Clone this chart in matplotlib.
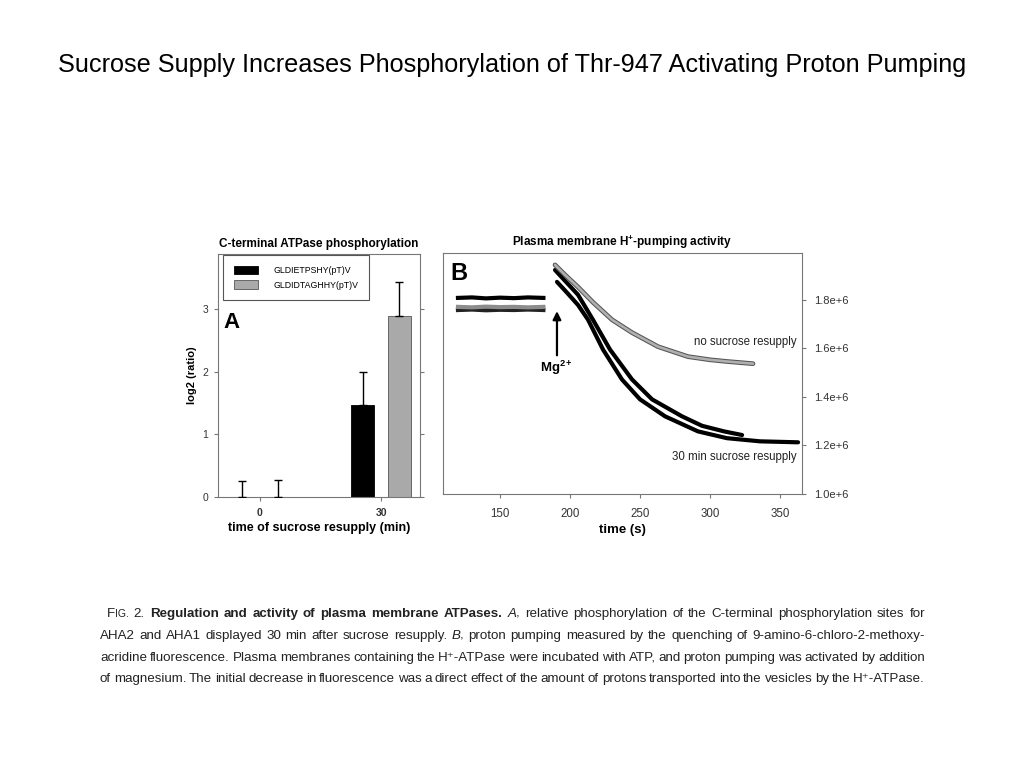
import matplotlib
matplotlib.use("Agg")
import matplotlib.pyplot as plt
from matplotlib import font_manager as fm
from matplotlib.ticker import FuncFormatter
import numpy as np

plt.rcParams['font.family'] = ['Liberation Sans', 'DejaVu Sans']
plt.rcParams['mathtext.fontset'] = 'custom'
plt.rcParams['mathtext.rm'] = 'Liberation Sans'
plt.rcParams['mathtext.bf'] = 'Liberation Sans:bold'
plt.rcParams['mathtext.it'] = 'Liberation Sans:italic'

# ---- panel A: phosphorylation bars
groups = ['0', '30']
series_names = ['GLDIETPSHY(pT)V', 'GLDIDTAGHHY(pT)V']
black_vals = [0.0, 1.47]
black_err = [0.25, 0.53]
gray_vals = [0.0, 2.89]
gray_err = [0.27, 0.55]

# ---- panel B: fluorescence traces (values in units of 1e6)
base_t = [120, 130, 140, 150, 160, 170, 181]
base_black_hi = [1.808, 1.810, 1.806, 1.809, 1.807, 1.810, 1.808]
base_gray = [1.771, 1.769, 1.772, 1.770, 1.771, 1.769, 1.771]
base_black_lo = [1.758, 1.760, 1.757, 1.759, 1.758, 1.760, 1.758]

nosuc_t = [189.3, 197, 205.7, 216.4, 230, 244.3, 262.9, 284.3, 300, 312.1, 330.7]
nosuc_v = [1.944, 1.900, 1.853, 1.790, 1.718, 1.665, 1.607, 1.566, 1.553, 1.546, 1.537]

suc1_t = [189.3, 197, 205.7, 216.4, 228.6, 244.3, 258.6, 280, 294.3, 310, 322.9]
suc1_v = [1.923, 1.875, 1.821, 1.718, 1.595, 1.472, 1.390, 1.320, 1.281, 1.258, 1.243]

suc2_t = [190.7, 197, 205.7, 212.9, 223.6, 237.1, 250, 267.9, 291.4, 312.1, 335.7, 362.9]
suc2_v = [1.874, 1.835, 1.779, 1.718, 1.595, 1.472, 1.390, 1.320, 1.258, 1.230, 1.217, 1.213]

time_ticks = [150, 200, 250, 300, 350]
fluor_ticks = [1.0, 1.2, 1.4, 1.6, 1.8]

title = "Sucrose Supply Increases Phosphorylation of Thr-947 Activating Proton Pumping"

fig = plt.figure(figsize=(10.24, 7.68), dpi=100)
fig.text(0.5, 1 - 65 / 768, title, ha='center', va='center', fontsize=18.2)

spine_c = '#777777'
tick_c = '#333333'

# ---------------- panel A
axA = fig.add_axes([218 / 1024, 1 - 497 / 768, 202 / 1024, 243 / 768])
x = np.arange(len(groups))
w = 0.19
axA.bar(x - 0.15, black_vals, w, color='black', edgecolor='black', linewidth=0.6,
        label=series_names[0], zorder=2)
axA.bar(x + 0.15, gray_vals, w, color='#a9a9a9', edgecolor='#555555', linewidth=0.6,
        label=series_names[1], zorder=2)
axA.errorbar(x - 0.15, black_vals, yerr=[np.zeros(len(x)), black_err], fmt='none',
             ecolor='black', elinewidth=1, capsize=3, capthick=1, zorder=3)
axA.errorbar(x + 0.15, gray_vals, yerr=[np.zeros(len(x)), gray_err], fmt='none',
             ecolor='black', elinewidth=1, capsize=3, capthick=1, zorder=3)
axA.set_xlim(-0.347, 1.322)
axA.set_ylim(0, 3.88)
axA.set_xticks(x)
axA.set_xticklabels(groups, fontweight='bold', fontsize=7.5)
axA.set_yticks([0, 1, 2, 3])
axA.tick_params(axis='y', left=True, right=True, direction='out', length=3,
                color=spine_c, labelsize=7.5, labelcolor=tick_c, pad=4)
axA.tick_params(axis='x', direction='out', length=3, color=spine_c, labelcolor=tick_c, pad=5)
for s in axA.spines.values():
    s.set_color(spine_c)
    s.set_linewidth(0.8)
axA.set_title('C-terminal ATPase phosphorylation', fontsize=8.5, fontweight='bold', pad=5)
axA.set_ylabel('log2 (ratio)', fontsize=8, fontweight='bold', labelpad=4)
axA.set_xlabel('time of sucrose resupply (min)', fontsize=9, fontweight='bold', labelpad=3)
axA.text(-0.30, 2.79, 'A', fontsize=16, fontweight='bold', va='center', ha='left')
leg = axA.legend(loc='upper left', bbox_to_anchor=(0.025, 0.996), fontsize=6.3, frameon=True,
                 fancybox=False, edgecolor='#555555', framealpha=1, handlelength=2.7,
                 handleheight=1.1, borderpad=1.25, labelspacing=0.6, handletextpad=1.8,
                 borderaxespad=0)
leg.get_frame().set_linewidth(0.8)

# ---------------- panel B
axB = fig.add_axes([443 / 1024, 1 - 494 / 768, 359 / 1024, 241 / 768])
axB.plot(base_t, np.array(base_black_hi) * 1e6, color='black', lw=3)
axB.plot(base_t, np.array(base_black_lo) * 1e6, color='#222222', lw=3)
axB.plot(base_t, np.array(base_gray) * 1e6, color='#8c8c8c', lw=3)
axB.plot(suc2_t, np.array(suc2_v) * 1e6, color='black', lw=3, solid_capstyle='round',
         solid_joinstyle='round')
axB.plot(suc1_t, np.array(suc1_v) * 1e6, color='black', lw=3, solid_capstyle='round',
         solid_joinstyle='round')
axB.plot(nosuc_t, np.array(nosuc_v) * 1e6, color='#555555', lw=3.4, solid_capstyle='round',
         solid_joinstyle='round')
axB.plot(nosuc_t, np.array(nosuc_v) * 1e6, color='#b0b0b0', lw=1.9, solid_capstyle='round',
         solid_joinstyle='round')

axB.set_xlim(109.3, 365.7)
axB.set_ylim(1.0e6, 1.993e6)
axB.set_xticks(time_ticks)
axB.set_yticks(np.array(fluor_ticks) * 1e6)
axB.yaxis.set_major_formatter(FuncFormatter(lambda v, p: f"{v / 1e6:.1f}e+6"))
axB.yaxis.tick_right()
axB.tick_params(axis='y', left=False, right=True, direction='out', length=3,
                color=spine_c, labelsize=8, labelcolor=tick_c, pad=6)
axB.tick_params(axis='x', direction='out', length=3, color=spine_c, labelsize=8.3,
                labelcolor=tick_c, pad=7)
for s in axB.spines.values():
    s.set_color(spine_c)
    s.set_linewidth(0.8)
axB.set_title(r'Plasma membrane H$^{\mathbf{+}}$-pumping activity', fontsize=8.5,
              fontweight='bold', pad=5)
axB.set_xlabel('time (s)', fontsize=9.5, fontweight='bold', labelpad=3)
axB.text(114.3, 1.909e6, 'B', fontsize=17, fontweight='bold', va='center', ha='left')
axB.annotate('', xy=(190.7, 1.765e6), xytext=(190.7, 1.56e6),
             arrowprops=dict(arrowstyle='-|>', color='black', lw=1.6, mutation_scale=12))
axB.text(190.5, 1.52e6, r'Mg$^{\mathbf{2+}}$', fontsize=9.5, fontweight='bold',
         ha='center', va='center')
axB.text(362, 1.628e6, 'no sucrose resupply', fontsize=8.3, ha='right', va='center', color='#222222')
axB.text(362, 1.152e6, '30 min sucrose resupply', fontsize=8.3, ha='right', va='center', color='#222222')

# ---------------- caption (justified lines)
try:
    fm.findfont(fm.FontProperties(family='Liberation Sans Narrow'), fallback_to_default=False)
    cap_family = 'Liberation Sans Narrow'
    cap_size = 11
except ValueError:
    cap_family = 'Liberation Sans'
    cap_size = 10.2

R = {}
B = {'fontweight': 'bold'}
I = {'fontstyle': 'italic'}
SC = {'small': True}

caption = [
    (107, 617, [("F", R), ("IG.", SC), (" 2. ", R),
                ("Regulation and activity of plasma membrane ATPases.", B), (" ", R),
                ("A", I), (", relative phosphorylation of the C-terminal phosphorylation sites for", R)]),
    (100, 639, [("AHA2 and AHA1 displayed 30 min after sucrose resupply. ", R), ("B", I),
                (", proton pumping measured by the quenching of 9-amino-6-chloro-2-methoxy-", R)]),
    (100, 661, [("acridine fluorescence. Plasma membranes containing the H\u207a-ATPase were incubated "
                 "with ATP, and proton pumping was activated by addition", R)]),
    (100, 682, [("of magnesium. The initial decrease in fluorescence was a direct effect of the amount "
                 "of protons transported into the vesicles by the H\u207a-ATPase.", R)]),
]
x_right = 925


def words_from(segments):
    words = [[]]
    for txt, kw in segments:
        pieces = txt.split(' ')
        for i, p in enumerate(pieces):
            if i > 0:
                words.append([])
            if p:
                words[-1].append((p, kw))
    return [wd for wd in words if wd]


fig.canvas.draw()
rend = fig.canvas.get_renderer()
W, H = fig.bbox.width, fig.bbox.height


def build(segs, size):
    placed = []
    total = 0
    for wd in words_from(segs):
        arts = []
        for txt, kw in wd:
            props = dict(family=[cap_family, 'DejaVu Sans'], fontsize=size, color='#222222')
            props.update({k: v for k, v in kw.items() if k != 'small'})
            if kw.get('small'):
                props['fontsize'] = size * 0.78
            t = fig.text(0, 0, txt, va='baseline', ha='left', **props)
            bw = t.get_window_extent(renderer=rend).width
            arts.append((t, bw))
            total += bw
        placed.append(arts)
    return placed, total


# one common size for all lines, small enough that every line still has word gaps
size = cap_size
while size > 7:
    ok = True
    for x0, y0, segs in caption:
        placed, total = build(segs, size)
        for arts in placed:
            for t, bw in arts:
                t.remove()
        if (x_right - x0 - total) / max(len(placed) - 1, 1) < size * 0.25:
            ok = False
    if ok:
        break
    size *= 0.98

for x0, y0, segs in caption:
    placed, total = build(segs, size)
    gap = (x_right - x0 - total) / max(len(placed) - 1, 1)
    xx = x0
    for arts in placed:
        for t, bw in arts:
            t.set_position((xx / W, 1 - y0 / H))
            xx += bw
        xx += gap

fig.savefig('out.png', dpi=100)
